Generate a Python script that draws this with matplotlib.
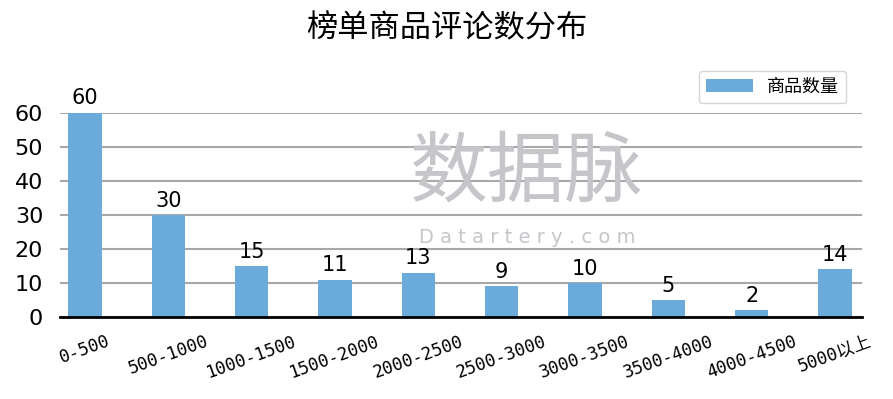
import numpy as np
import matplotlib.pyplot as plt

plt.rcParams['font.family'] = ['DejaVu Sans', 'Noto Sans CJK SC']

# data
ranges = ['0-500', '500-1000', '1000-1500', '1500-2000', '2000-2500',
          '2500-3000', '3000-3500', '3500-4000', '4000-4500', '5000以上']
counts = [60, 30, 15, 11, 13, 9, 10, 5, 2, 14]

fig = plt.figure(figsize=(8.93, 3.99), dpi=100)
ax = fig.add_axes([0.067, 0.2055, 0.898, 0.5115])

x = np.arange(len(ranges))
bars = ax.bar(x, counts, width=0.4, color='#6aabdc', label='商品数量', zorder=3)

for xi, v in zip(x, counts):
    ax.text(xi, v + 1.3, str(v), ha='center', va='bottom', fontsize=15, clip_on=False)

ax.set_xlim(-0.3, 9.32)
ax.set_ylim(0, 60)
ax.set_yticks([0, 10, 20, 30, 40, 50, 60])
ax.tick_params(axis='y', labelsize=16, length=0, pad=12)
ax.set_xticks(x)
ax.set_xticklabels(ranges, rotation=20, fontsize=12.5,
                   family=['DejaVu Sans Mono', 'Noto Sans CJK SC'])
ax.tick_params(axis='x', length=0, pad=11)
ax.grid(axis='y', color='#a8a8a8', linewidth=1.5, zorder=0)
for s in ['top', 'right', 'left']:
    ax.spines[s].set_visible(False)
ax.spines['bottom'].set_linewidth(2)
ax.spines['bottom'].set_zorder(4)

# watermark
fig.text(0.59, 0.565, '数据脉', fontsize=56, color='#c6c6ca', ha='center', va='center',
         family='Noto Sans CJK SC', zorder=0)
fig.text(0.59, 0.405, 'D a t a r t e r y . c o m', fontsize=14, color='#c6c6ca',
         ha='center', va='center', zorder=0)

fig.suptitle('榜单商品评论数分布', fontsize=22.5, y=0.97, family='Noto Sans CJK SC')
fig.legend(loc='upper right', bbox_to_anchor=(0.958, 0.845),
           prop={'family': 'Noto Sans CJK SC', 'size': 13}, handlelength=2.6,
           edgecolor='#cccccc', fancybox=True)

plt.savefig('out.png', dpi=100)
